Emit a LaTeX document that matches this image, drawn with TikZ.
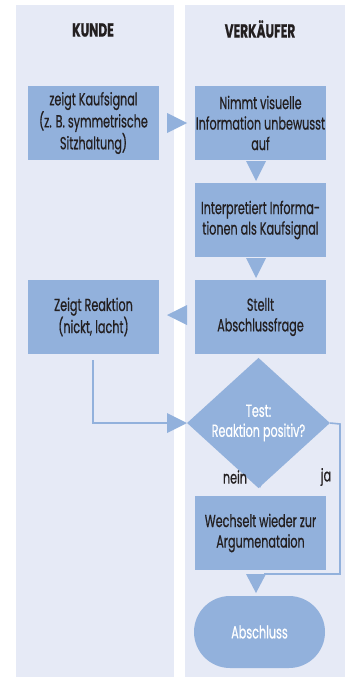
\documentclass[tikz,border=0pt]{standalone}
\usepackage{fontspec}
\setmainfont{Poppins}[FakeStretch=0.64,FakeBold=0.6,BoldFeatures={FakeStretch=0.64}]
\usetikzlibrary{shapes.geometric,calc}
\definecolor{panel}{HTML}{E6EAF6}
\definecolor{boxc}{HTML}{92B1DC}
\definecolor{txt}{HTML}{231F20}
\tikzset{
  panelbox/.style={fill=panel,draw=none},
  stepbox/.style={fill=boxc,draw=none,minimum width=131pt,minimum height=74pt,align=center,text=txt,font=\fontsize{17.5}{20.5}\selectfont,inner sep=0pt},
  header/.style={text=txt,font=\fontsize{19}{22}\bfseries\selectfont},
  tri/.style={fill=boxc,draw=none},
  conn/.style={draw=boxc,line width=1.6pt},
  lbl/.style={text=txt,font=\fontsize{17.5}{20}\selectfont}
}
\begin{document}
\begin{tikzpicture}[x=1pt,y=-1pt]
\useasboundingbox (0,0) rectangle (345,677);
\fill[white] (0,0) rectangle (345,677);
\path[panelbox] (16,5) rectangle (174,677);
\path[panelbox] (185,5) rectangle (345,677);
\node[header] (hk) at (93,30) {KUNDE};
\node[header] (hv) at (260,29) {VERKÄUFER};
\node[stepbox] (k1) at (93.5,123) {zeigt Kaufsignal\\(z. B. symmetrische\\Sitzhaltung)};
\node[stepbox] (v1) at (260.5,123) {Nimmt visuelle\\Information unbewusst\\auf};
\node[stepbox] (v2) at (260.5,220) {Interpretiert Informa-\\tionen als Kaufsignal};
\node[stepbox] (v3) at (260.5,317) {Stellt\\Abschlussfrage};
\node[stepbox] (k2) at (93.5,317) {Zeigt Reaktion\\(nickt, lacht)};
\node[diamond,fill=boxc,minimum width=143pt,minimum height=79pt,inner sep=0pt,align=center,text=white,font=\fontsize{17.5}{20}\selectfont] (d) at (258.5,423) {Test:\\Reaktion positiv?};
\node[stepbox] (v4) at (260.5,533) {Wechselt wieder zur\\Argumenataion};
\node[fill=boxc,rounded corners=36pt,minimum width=131pt,minimum height=72pt,inner sep=0pt,text=white,font=\fontsize{17.5}{20}\selectfont] (e) at (259.5,632) {Abschluss};
% arrows
\path[tri] (167,113) -- (187,123) -- (167,133) -- cycle;
\path[tri] (246,161) -- (266,161) -- (256,181) -- cycle;
\path[tri] (246,258) -- (266,258) -- (256,278) -- cycle;
\path[tri] (187,305) -- (167,315) -- (187,325) -- cycle;
\path[tri] (250,469) -- (270,469) -- (260,488) -- cycle;
\path[tri] (246,574) -- (266,574) -- (256,593) -- cycle;
% connectors
\coordinate (ka) at (93,360);
\coordinate (kt) at (167,423);
\draw[conn] (ka) |- (kt);
\path[tri] (167,413) -- (187,423) -- (167,433) -- cycle;
\coordinate (jr) at (340,424);
\coordinate (jb) at (340,574);
\coordinate (je) at (264,574);
\draw[conn] (d.east) -- (jr) -- (jb) -- (je);
\node[lbl] (nein) at (235,477) {nein};
\node[lbl] (ja) at (326,477) {ja};
\end{tikzpicture}
\end{document}
